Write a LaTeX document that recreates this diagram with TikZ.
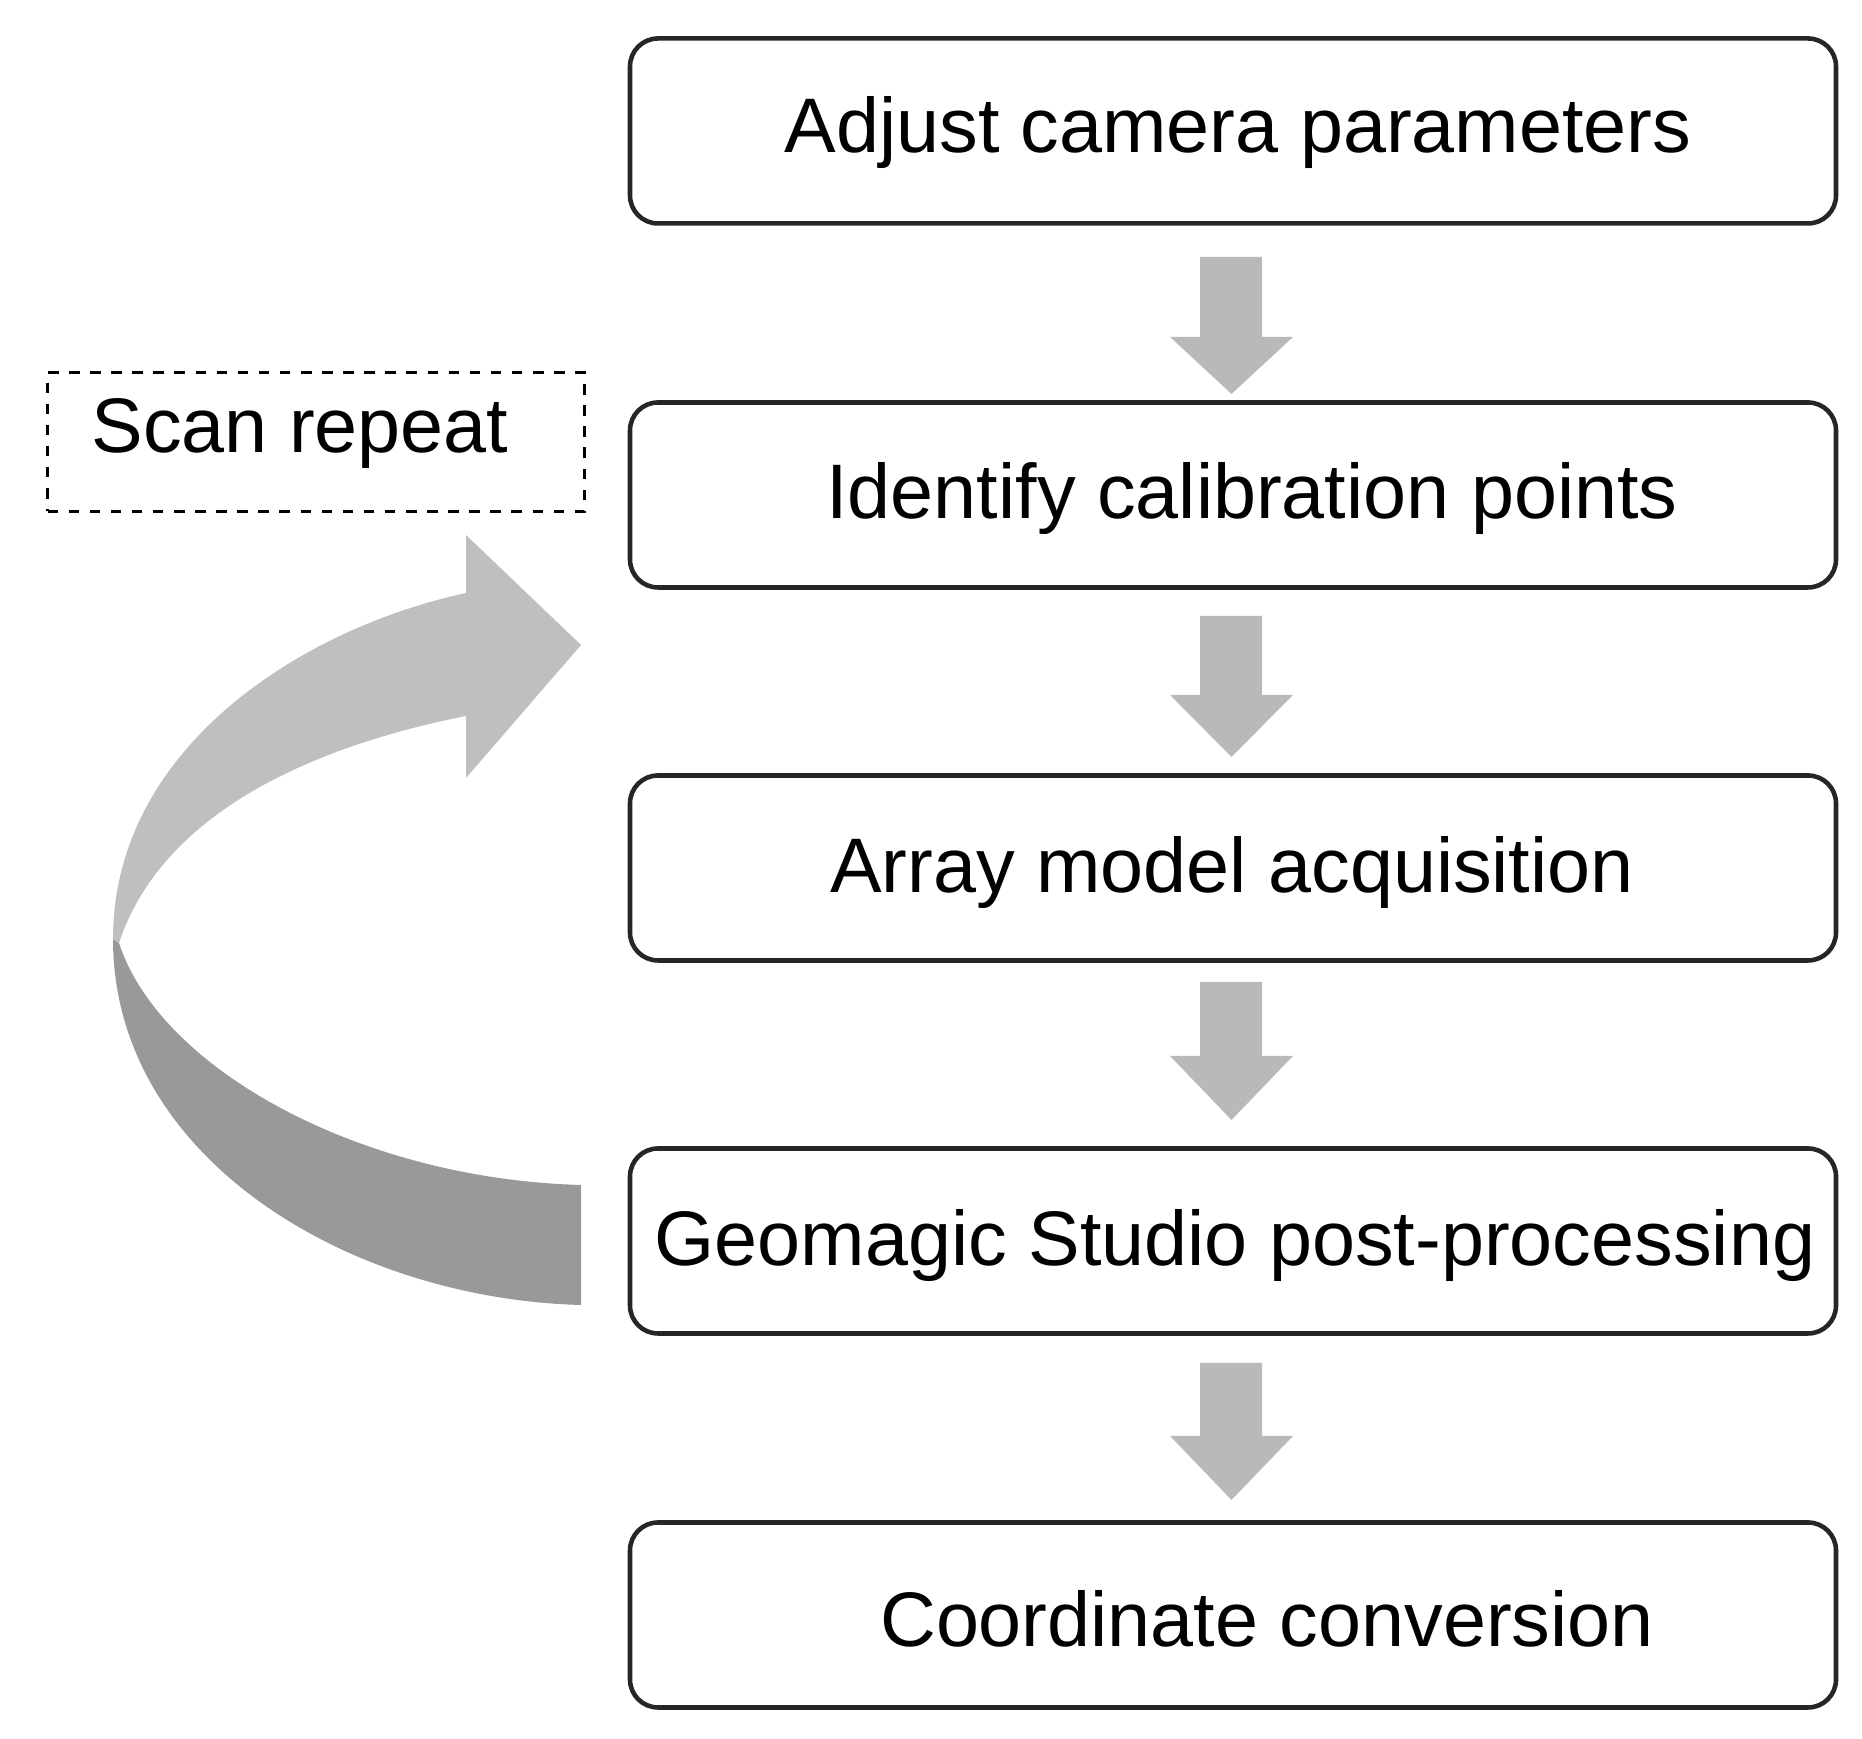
\documentclass[tikz,border=0pt]{standalone}
\usepackage{fontspec}
\setmainfont{Liberation Sans}
\begin{document}
\begin{tikzpicture}[x=1cm,y=1cm,
  box/.style={draw=black!85,line width=1.3pt,rounded corners=0.28cm,minimum width=12.06cm,minimum height=1.85cm},
  txt/.style={font=\fontsize{22}{26}\selectfont},
  darr/.style={fill=gray!55,draw=none}]
\useasboundingbox (0,0) rectangle (18.62,17.39);
\node[box] (b1) at (12.33,16.08) {};
\node[box] (b2) at (12.33,12.44) {};
\node[box] (b3) at (12.33,8.71) {};
\node[box] (b4) at (12.33,4.98) {};
\node[box] (b5) at (12.33,1.24) {};
\node[txt] (t1) at (12.38,16.06) {Adjust camera parameters};
\node[txt] (t2) at (12.52,12.40) {Identify calibration points};
\node[txt] (t3) at (12.32,8.66) {Array model acquisition};
\node[txt] (t4) at (12.35,4.93) {Geomagic Studio post-processing};
\node[txt] (t5) at (12.67,1.20) {Coordinate conversion};
\node[draw,dashed,line width=1pt,minimum width=5.37cm,minimum height=1.39cm] (s) at (3.16,12.97) {};
\node[txt] (st) at (3.00,13.05) {Scan repeat};
% down arrows
\foreach \n/\a/\h/\b in {a1/14.82/14.02/13.45, a2/11.23/10.44/9.82, a3/7.57/6.83/6.19, a4/3.76/3.03/2.39}{
  \fill[darr] (12.00,\a) -- (12.62,\a) -- (12.62,\h) -- (12.93,\h) -- (12.315,\b) -- (11.70,\h) -- (12.00,\h) -- cycle;
}
% curved arrow
\fill[gray!80] (5.81,4.34) .. controls (3.5,4.4) and (1.13,5.8) .. (1.13,8.0)
  -- (1.19,7.96) .. controls (1.6,6.7) and (3.6,5.6) .. (5.81,5.54) -- cycle;
\fill[gray!50] (1.13,8.0) .. controls (1.13,9.9) and (3,11.1) .. (4.66,11.46)
  -- (4.66,12.04) -- (5.81,10.94) -- (4.66,9.61) -- (4.66,10.23)
  .. controls (3,9.9) and (1.6,9.2) .. (1.19,7.96) -- cycle;
\end{tikzpicture}
\end{document}
